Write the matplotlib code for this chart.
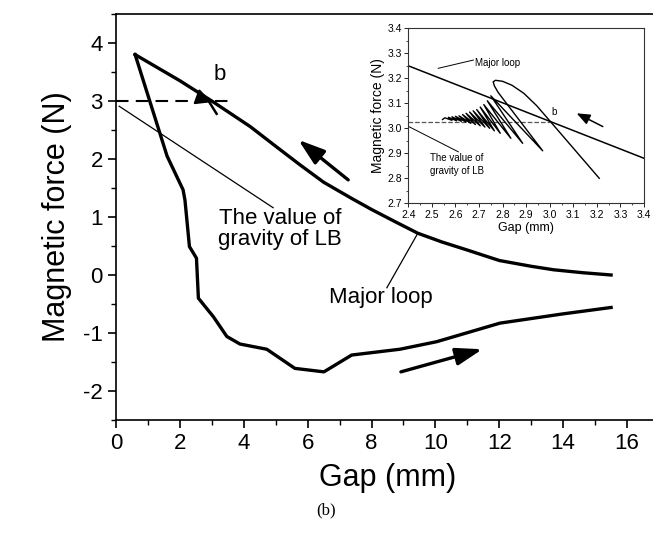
import numpy as np
import matplotlib
matplotlib.use('Agg')
import matplotlib.pyplot as plt
from matplotlib.ticker import MultipleLocator

plt.rcParams.update({
    'font.family': ['Liberation Sans', 'DejaVu Sans'], 'font.size': 16,
    'axes.linewidth': 1.2, 'figure.dpi': 100, 'savefig.dpi': 100,
    'axes.unicode_minus': False,
})

# main loop: approaching branch (upper) and receding branch (lower)
upper_gap = [0.6, 2.0, 3.0, 4.2, 5.0, 5.76, 6.5, 7.38, 8.0, 8.7, 9.45, 10.2,
             11.0, 12.0, 13.0, 13.7, 14.6, 15.5]
upper_force = [3.8, 3.35, 3.0, 2.56, 2.22, 1.9, 1.6, 1.32, 1.13, 0.93, 0.72, 0.57,
               0.43, 0.25, 0.15, 0.09, 0.04, 0.0]
lower_gap = [0.6, 1.6, 2.1, 2.16, 2.3, 2.52, 2.58, 3.05, 3.47, 3.88, 4.72, 5.6,
             6.51, 7.38, 8.89, 10.04, 12.02, 14.0, 15.5]
lower_force = [3.8, 2.05, 1.47, 1.29, 0.49, 0.29, -0.40, -0.72, -1.06, -1.19, -1.28,
               -1.61, -1.67, -1.38, -1.28, -1.15, -0.83, -0.67, -0.56]
gravity_lb = 3.0

# inset: zoom around point b
major_gap = [2.4, 3.4]
major_force = [3.25, 2.88]
gravity_inset = 3.026
osc_gap = [3.21, 3.0, 2.945, 2.89, 2.84, 2.80, 2.77, 2.76, 2.765, 2.78, 2.80, 2.97,
           2.75, 2.885, 2.735, 2.835, 2.72, 2.79, 2.705, 2.765, 2.69, 2.745,
           2.675, 2.725, 2.66, 2.705, 2.645, 2.685, 2.63, 2.665, 2.615, 2.645,
           2.60, 2.625, 2.585, 2.605, 2.57, 2.585, 2.555, 2.545]
osc_force = [2.80, 3.03, 3.09, 3.14, 3.172, 3.188, 3.192, 3.186, 3.17, 3.145, 3.12, 2.91,
             3.13, 2.94, 3.11, 2.96, 3.095, 2.98, 3.085, 2.99, 3.075, 3.0,
             3.07, 3.005, 3.065, 3.01, 3.06, 3.015, 3.055, 3.02, 3.05, 3.025,
             3.048, 3.028, 3.046, 3.03, 3.044, 3.032, 3.042, 3.035]

fig = plt.figure(figsize=(6.53, 5.37))
ax = fig.add_axes([0.1776, 0.2179, 0.8316, 0.756])

ax.plot(upper_gap, upper_force, '-', color='black', lw=2.4)
ax.plot(lower_gap, lower_force, '-', color='black', lw=2.4)
ax.plot([0, 3.66], [gravity_lb, gravity_lb], '--', color='black', lw=1.5, dashes=(6, 3.5))

ax.annotate('', xy=(5.71, 2.33), xytext=(7.27, 1.64),
            arrowprops=dict(arrowstyle='-|>,head_length=1.0,head_width=0.33',
                            color='black', lw=2.4, shrinkA=0, shrinkB=0))
ax.annotate('', xy=(11.47, -1.28), xytext=(8.92, -1.67),
            arrowprops=dict(arrowstyle='-|>,head_length=1.0,head_width=0.33',
                            color='black', lw=2.4, shrinkA=0, shrinkB=0))
# small marker at b
ax.annotate('', xy=(3.0, 2.98), xytext=(2.6, 3.06),
            arrowprops=dict(arrowstyle='-|>,head_length=0.6,head_width=0.3',
                            color='black', lw=1.5, shrinkA=0, shrinkB=0))
ax.plot([2.9, 3.15], [3.0, 2.78], '-', color='black', lw=1.8)
ax.text(3.26, 3.45, 'b', fontsize=16, ha='center', va='center')

ax.plot([0.1, 4.92], [2.91, 1.16], '-', color='black', lw=0.9)
ax.text(5.13, 0.80, 'The value of\ngravity of LB', fontsize=16, ha='center',
        va='center', linespacing=1.0)
ax.plot([8.48, 9.45], [-0.22, 0.72], '-', color='black', lw=0.9)
ax.text(8.3, -0.38, 'Major loop', fontsize=16, ha='center', va='center')

ax.set_xlim(0, 17)
ax.set_ylim(-2.5, 4.5)
ax.xaxis.set_major_locator(MultipleLocator(2))
ax.xaxis.set_minor_locator(MultipleLocator(1))
ax.yaxis.set_major_locator(MultipleLocator(1))
ax.yaxis.set_minor_locator(MultipleLocator(0.5))
ax.tick_params(which='major', direction='out', length=6, width=1.2, labelsize=16)
ax.tick_params(which='minor', direction='out', length=3.5, width=1.0)
ax.tick_params(top=False, right=False)
ax.set_xlabel('Gap (mm)', fontsize=22, labelpad=6)
ax.set_ylabel('Magnetic force (N)', fontsize=22, labelpad=8)

# inset
ins = fig.add_axes([0.6253, 0.6214, 0.361, 0.3259])
ins.plot(major_gap, major_force, '-', color='black', lw=1.1)
ins.plot([2.4, 3.0], [gravity_inset, gravity_inset], '--', color='#555555', lw=0.9)
ins.plot(osc_gap, osc_force, '-', color='black', lw=1.0)
ins.annotate('', xy=(3.114, 3.06), xytext=(3.225, 3.007),
             arrowprops=dict(arrowstyle='-|>,head_length=0.5,head_width=0.2',
                             color='black', lw=1.1, shrinkA=0, shrinkB=0))
ins.text(3.008, 3.046, 'b', fontsize=7, ha='left', va='bottom')
ins.plot([2.527, 2.676], [3.24, 3.273], '-', color='black', lw=0.7)
ins.text(2.683, 3.262, 'Major loop', fontsize=7, ha='left', va='center')
ins.plot([2.404, 2.612], [3.006, 2.906], '-', color='black', lw=0.7)
ins.text(2.492, 2.856, 'The value of\ngravity of LB', fontsize=7, ha='left',
         va='center', linespacing=1.3)
ins.set_xlim(2.4, 3.4)
ins.set_ylim(2.7, 3.4)
ins.xaxis.set_major_locator(MultipleLocator(0.1))
ins.xaxis.set_minor_locator(MultipleLocator(0.05))
ins.yaxis.set_major_locator(MultipleLocator(0.1))
ins.yaxis.set_minor_locator(MultipleLocator(0.05))
ins.xaxis.set_major_formatter(plt.FormatStrFormatter('%.1f'))
ins.yaxis.set_major_formatter(plt.FormatStrFormatter('%.1f'))
ins.tick_params(which='major', direction='out', length=3, width=0.6, labelsize=7.5, pad=1.5)
ins.tick_params(which='minor', direction='out', length=1.5, width=0.5)
for s in ins.spines.values():
    s.set_linewidth(0.8)
    s.set_color('#333333')
ins.set_xlabel('Gap (mm)', fontsize=9, labelpad=2)
ins.set_ylabel('Magnetic force (N)', fontsize=10, labelpad=2)

fig.text(0.499, 0.05, '(b)', fontsize=12, ha='center', va='center',
         family=['Liberation Serif', 'DejaVu Serif'])

fig.savefig('out.png')
